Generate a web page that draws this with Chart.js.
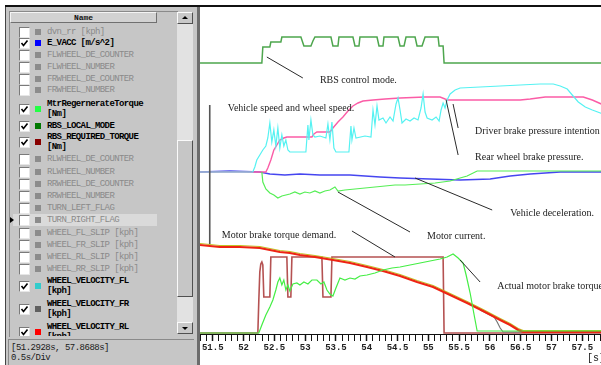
<!DOCTYPE html>
<html>
<head>
<meta charset="utf-8">
<script src="https://cdn.jsdelivr.net/npm/chart.js@4.4.1/dist/chart.umd.min.js"></script>
<style>
html, body { margin:0; padding:0; width:601px; height:365px; overflow:hidden; background:#fff; }
#topline { position:absolute; left:5px; top:5px; width:596px; height:2px; background:#111; z-index:5; }
#panel { position:absolute; left:5px; top:7px; width:193px; height:358px; background:#c6c6c6; border-left:1px solid #444; }
#sep { position:absolute; left:197px; top:7px; width:3px; height:358px; background:#6c6c6c; }
#list { position:absolute; left:0; top:0; width:177px; height:336px; overflow:hidden; }
#listbox { position:absolute; left:9px; top:11px; width:168px; height:325px; border-top:1px solid #8a8a8a; border-left:1px solid #8a8a8a; }
#hdr { position:absolute; left:10px; top:12px; width:145px; height:9px; background:#d2d2d2;
  border-top:1px solid #f4f4f4; border-left:1px solid #f4f4f4; border-right:1px solid #707070; border-bottom:1px solid #707070;
  font:bold 8px "Liberation Mono", monospace; text-align:center; line-height:9px; color:#111; }
.row { position:absolute; left:47px; font:bold 9px "Liberation Mono", monospace; letter-spacing:-0.6px; line-height:10px; color:#000; white-space:pre; }
.row.off { color:#8a8a8a; font-weight:normal; }
.cb { position:absolute; left:19px; width:9px; height:9px; background:#fff; border-top:1px solid #7a7a7a; border-left:1px solid #7a7a7a; border-right:1px solid #e6e6e6; border-bottom:1px solid #e6e6e6; overflow:hidden; }
.cb svg { display:block; }
.sq { position:absolute; left:35px; width:6px; height:6px; }
#sel { position:absolute; left:13px; top:214px; width:144px; height:12px; background:#dadada; }
#mark { position:absolute; left:10px; top:217px; width:0; height:0; border-top:3px solid transparent; border-bottom:3px solid transparent; border-left:4px solid #000; }
#sb { position:absolute; left:177px; top:12px; width:16px; height:322px; background:#e2e2e2; }
.btn { position:absolute; left:0; width:14px; height:10px; background:#c8c8c8; border-top:1px solid #fafafa; border-left:1px solid #fafafa; border-right:1px solid #505050; border-bottom:1px solid #505050; }
#thumb { position:absolute; left:0; top:128px; width:14px; height:155px; background:#c6c6c6; border-top:1px solid #fafafa; border-left:1px solid #fafafa; border-right:1px solid #505050; border-bottom:1px solid #505050; }
.tri { position:absolute; left:4px; width:0; height:0; border-left:3px solid transparent; border-right:3px solid transparent; }
#status { position:absolute; left:8px; top:339px; width:186px; height:26px; border-top:1px solid #8a8a8a; border-left:1px solid #8a8a8a;
  font:9px "Liberation Mono", monospace; letter-spacing:-0.5px; line-height:10px; color:#1a1a1a; padding:3px 0 0 2px; box-sizing:border-box; white-space:pre; }
#chart { position:absolute; left:200px; top:0; }
</style>
</head>
<body>
<div id="panel"></div>
<div id="listbox"></div>
<div id="list">
  <div id="hdr">Name</div>
  <div id="sel"></div>
  <div id="mark"></div>
</div>
<div id="sb">
  <div class="btn" style="top:0"><div class="tri" style="top:3px;border-bottom:3px solid #000"></div></div>
  <div id="thumb"></div>
  <div class="btn" style="top:310px"><div class="tri" style="top:4px;border-top:3px solid #000"></div></div>
</div>
<div id="status">[51.2928s, 57.8688s]
0.5s/Div</div>
<div id="sep"></div>
<div id="topline"></div>
<canvas id="chart" width="405" height="365"></canvas>
<script>
// Signal list on the left
const rowNames = ['dvn_rr [kph]', 'E_VACC [m/s^2]', 'FLWHEEL_DE_COUNTER', 'FLWHEEL_NUMBER', 'FRWHEEL_DE_COUNTER',
  'FRWHEEL_NUMBER', 'MtrRegernerateTorque\n[Nm]', 'RBS_LOCAL_MODE', 'RBS_REQUIRED_TORQUE\n[Nm]', 'RLWHEEL_DE_COUNTER',
  'RLWHEEL_NUMBER', 'RRWHEEL_DE_COUNTER', 'RRWHEEL_NUMBER', 'TURN_LEFT_FLAG', 'TURN_RIGHT_FLAG',
  'WHEEL_FL_SLIP [kph]', 'WHEEL_FR_SLIP [kph]', 'WHEEL_RL_SLIP [kph]', 'WHEEL_RR_SLIP [kph]',
  'WHEEL_VELOCITY_FL\n[kph]', 'WHEEL_VELOCITY_FR\n[kph]', 'WHEEL_VELOCITY_RL\n[kph]'];
const rowY = [32, 43, 55, 67, 79, 90, 104, 126, 137, 159, 172, 184, 196, 208, 220, 233, 245, 257, 269, 281, 304, 327];
const rowColor = [null, '#0000ff', null, null, null, null, '#22ff44', '#007800', '#880000', null,
  null, null, null, null, null, null, null, null, null, '#33cccc', '#606060', '#ff0000'];

// View window (s)
const viewStart = 51.2928;
const viewEnd = 57.8688;
const majorTicks = [51.5, 52, 52.5, 53, 53.5, 54, 54.5, 55, 55.5, 56, 56.5, 57, 57.5];

// Traces: time (s) and plotted level (no y scale on the display)
const modeT = [51.293, 52.297, 52.313, 52.427, 52.443, 52.606, 52.622, 52.931, 52.980, 53.094, 53.126, 53.159,
  53.419, 53.451, 53.533, 53.549, 53.776, 53.809, 53.874, 53.890, 54.167, 54.199, 54.264, 54.280, 54.508,
  54.541, 54.606, 54.638, 54.785, 54.817, 54.898, 54.947, 55.159, 55.175, 55.240, 55.256, 57.87];
const modeV = [271, 271, 287, 287, 292, 292, 297, 297, 288, 288, 293, 297,
  297, 288, 288, 297, 297, 288, 288, 297, 297, 288, 288, 297, 297,
  288, 288, 297, 297, 288, 288, 297, 297, 288, 288, 271, 271];

const wheelFLT = [51.293, 52.150, 52.183, 52.215, 52.264, 52.313, 52.362, 52.394, 52.427, 52.459, 52.492, 52.524,
  52.557, 52.589, 52.622, 52.654, 52.687, 52.720, 52.752, 53.012, 53.045, 53.061, 53.094, 53.126, 53.159,
  53.240, 53.337, 53.370, 53.402, 53.435, 53.467, 53.500, 53.711, 53.744, 53.760, 53.793, 53.825, 53.972,
  54.069, 54.102, 54.134, 54.167, 54.199, 54.264, 54.313, 54.378, 54.427, 54.476, 54.508, 54.541, 54.573,
  54.638, 54.703, 54.768, 54.833, 54.882, 54.915, 54.947, 54.980, 55.061, 55.126, 55.175, 55.207, 55.240,
  55.272, 55.305, 55.354, 55.435, 55.516, 55.841, 56.167, 56.492, 56.817, 57.029, 57.142, 57.256, 57.337,
  57.435, 57.549, 57.663, 57.793, 57.87];
const wheelFLV = [162, 162, 167, 174, 179, 184, 188, 196, 211, 192, 204, 188,
  206, 186, 199, 188, 194, 184, 182, 182, 209, 194, 214, 199, 197,
  198, 196, 210, 194, 212, 186, 182, 182, 208, 194, 206, 196, 198,
  197, 224, 209, 228, 214, 216, 211, 217, 213, 230, 236, 224, 211,
  215, 213, 216, 214, 226, 240, 222, 216, 214, 217, 213, 224, 231,
  226, 234, 240, 244, 246, 247, 248, 249, 250, 250, 248, 245, 239,
  232, 227, 224, 221, 219];

const wheelRRT = [51.293, 52.362, 52.394, 52.443, 52.492, 52.541, 52.589, 52.654, 52.703, 53.110, 53.142, 53.191,
  53.402, 53.451, 53.533, 53.614, 53.695, 53.776, 53.858, 53.939, 54.102, 54.297, 54.541, 54.947, 55.191,
  55.272, 55.321, 56.492, 56.654, 56.898, 57.516, 57.663, 57.809, 57.87];
const wheelRRV = [162, 162, 166, 174, 184, 189, 194, 196, 197, 197, 200, 202,
  202, 206, 212, 217, 223, 228, 231, 233, 234, 235, 236, 237, 237,
  235, 234, 234, 235, 237, 237, 234, 230, 228];

const vaccT = [51.293, 51.776, 52.264, 52.427, 52.671, 52.915, 53.240, 53.728, 54.215, 54.541, 55.028, 55.516,
  56.004, 56.329, 56.654, 57.142, 57.87];
const vaccV = [162, 163, 162, 160, 159, 160, 159, 159, 157, 156, 155, 154, 155, 158, 160, 162, 162];

const currentT = [52.297, 52.313, 52.362, 52.427, 52.492, 52.557, 52.622, 52.687, 52.752, 52.833, 52.915, 52.996,
  53.077, 53.159, 53.240, 53.321, 53.402, 53.484, 53.533, 53.646, 53.809, 53.972, 54.134, 54.297, 54.459,
  54.622, 54.866, 55.110, 55.354, 55.516, 55.630, 55.793, 57.87];
const currentV = [162, 152, 145, 141, 139, 136, 138, 139, 140, 142, 140, 142,
  141, 143, 141, 143, 144, 147, 143, 144, 145, 146, 147, 148, 149,
  149, 150, 151, 153, 156, 158, 163, 163];

const regenT = [51.293, 52.248, 52.297, 52.362, 52.427, 52.476, 52.524, 52.557, 52.589, 52.622, 52.654, 52.687,
  52.720, 52.752, 52.801, 52.866, 52.915, 52.980, 53.045, 53.110, 53.191, 53.256, 53.305, 53.354, 53.402,
  53.451, 53.500, 53.565, 53.646, 53.728, 53.809, 53.890, 54.004, 54.134, 54.264, 54.411, 54.541, 54.703,
  54.866, 55.028, 55.191, 55.305, 55.402, 55.484, 55.565, 55.614, 55.679, 55.744, 55.793, 57.87];
const regenV = [1, 1, 9, 19, 27, 34, 44, 52, 56, 49, 54, 44,
  49, 43, 50, 51, 49, 52, 50, 54, 54, 50, 52, 44, 40,
  38, 46, 56, 54, 56, 55, 58, 59, 61, 64, 66, 67, 69,
  71, 73, 75, 77, 80, 76, 71, 59, 41, 19, 3, 3];

const reqTorqueT = [51.293, 52.232, 52.248, 52.264, 52.280, 52.297, 52.313, 52.329, 52.427, 52.443, 52.703, 52.720,
  52.768, 52.785, 53.272, 53.289, 53.419, 53.435, 55.240, 55.256, 57.87];
const reqTorqueV = [1, 1, 34, 62, 70, 72, 69, 37, 37, 77, 77, 37,
  37, 77, 77, 37, 37, 77, 77, 1, 1];

const demandT = [51.293, 51.451, 51.614, 51.939, 52.264, 52.427, 52.589, 52.752, 52.915, 53.159, 53.451, 53.728,
  54.004, 54.264, 54.541, 54.817, 55.077, 55.354, 55.630, 55.890, 56.167, 56.329, 56.459, 56.541, 56.654, 57.87];
const demandV = [89, 88, 87, 87, 86, 84, 82, 81, 79, 77, 74, 71,
  67, 63, 58, 52, 47, 39, 31, 23, 14, 9, 4, 2, 2, 2];
const demandHiV = [90.5, 89.5, 88.5, 88.5, 87.5, 85.5, 83.5, 82.5, 80.5, 78.5, 75.5, 72.5,
  68.5, 64.5, 59.5, 53.5, 48.5, 40.5, 32.5, 24.5, 15.5, 10.5, 5.5, 3.5, 3.5, 3.5];

const wheelFRT = [55.841, 56.069, 56.118, 56.167, 56.215, 56.492, 57.87];
const wheelFRV = [24, 17, 12, 6, 2, 2, 2];

// Annotations (text left edge / leader line ends, in plot units)
const noteText = ['RBS control mode.', 'Vehicle speed and wheel speed.', 'Driver brake pressure intention',
  'Rear wheel brake pressure.', 'Vehicle deceleration.', 'Motor current.', 'Motor brake torque demand.',
  'Actual motor brake torque'];
const noteT = [53.240, 51.744, 55.760, 55.760, 56.329, 54.980, 51.646, 56.118];
const noteV = [254, 226, 203, 177, 121, 98, 99, 48];
const leadT0 = [52.378, 51.451, 55.402, 55.289, 54.785, 53.533, 53.760, 55.516];
const leadV0 = [277, 229, 230, 234, 156, 142, 103, 74];
const leadT1 = [52.963, 51.451, 55.484, 55.484, 56.037, 54.703, 54.459, 55.841];
const leadV1 = [256, 90, 206, 179, 124, 102, 77, 52];

// build the list panel
const list = document.getElementById('list');
rowNames.forEach((name, i) => {
  const on = rowColor[i] !== null;
  const twoLine = name.includes('\n');
  const mid = twoLine ? rowY[i] + 5 : rowY[i];
  const row = document.createElement('div');
  row.className = on ? 'row' : 'row off';
  row.style.top = (rowY[i] - 5) + 'px';
  row.textContent = name;
  list.appendChild(row);
  const cb = document.createElement('div');
  cb.className = 'cb';
  cb.style.top = (mid - 5) + 'px';
  if (on) {
    cb.innerHTML = '<svg width="9" height="9" viewBox="0 0 9 9"><polyline points="1.5,4 3.5,6.5 7.5,1.5" fill="none" stroke="#000" stroke-width="1.6"/></svg>';
  }
  list.appendChild(cb);
  const sq = document.createElement('div');
  sq.className = 'sq';
  sq.style.top = (mid - 3) + 'px';
  sq.style.background = on ? rowColor[i] : '#8c8c8c';
  list.appendChild(sq);
});

// minor ticks every 0.1 s
const tickValues = [];
for (let k = 513; k <= 578; k++) tickValues.push(k / 10);
const isMajor = (v) => Math.abs(v * 2 - Math.round(v * 2)) < 1e-6;

function trace(label, ts, vs, color, width, order) {
  return {
    label: label,
    data: ts.map((t, i) => ({ x: t, y: vs[i] })),
    borderColor: color,
    borderWidth: width,
    order: order,
    clip: false,
    pointRadius: 0,
    fill: false,
    tension: 0,
  };
}

const datasets = [
  trace('E_VACC', vaccT, vaccV, '#4646f0', 1.4, 20),
  trace('WHEEL_VELOCITY_RR', wheelRRT, wheelRRV, '#fb5ca6', 1.4, 19),
  trace('WHEEL_VELOCITY_FL', wheelFLT, wheelFLV, '#55f2f2', 1.2, 18),
  trace('Motor current', currentT, currentV, '#55ee55', 1.2, 17),
  trace('RBS_LOCAL_MODE', modeT, modeV, '#4ea64e', 1.5, 16),
  trace('RBS_REQUIRED_TORQUE', reqTorqueT, reqTorqueV, '#b55252', 1.6, 15),
  trace('WHEEL_VELOCITY_FR', wheelFRT, wheelFRV, '#777777', 1.2, 14),
  trace('Demand (filtered)', demandT, demandHiV, '#c2c224', 1.2, 13),
  trace('Motor brake torque demand', demandT, demandV, '#ee2414', 2.2, 12),
  trace('MtrRegernerateTorque', regenT, regenV, '#44ee44', 1.2, 11),
];
noteText.forEach((s, i) => {
  datasets.push(trace('lead ' + i, [leadT0[i], leadT1[i]], [leadV0[i], leadV1[i]],
    i === 1 ? '#555555' : '#2a2a2a', i === 1 ? 1.6 : 1, 1));
});

const notesPlugin = {
  id: 'notes',
  afterDatasetsDraw(chart) {
    const { ctx, scales } = chart;
    ctx.save();
    ctx.font = '10px "Liberation Serif", serif';
    ctx.fillStyle = '#1c1c1c';
    ctx.textBaseline = 'middle';
    ctx.textAlign = 'left';
    noteText.forEach((s, i) => {
      ctx.fillText(s, scales.x.getPixelForValue(noteT[i]), scales.y.getPixelForValue(noteV[i]));
    });
    ctx.restore();
  },
};

new Chart(document.getElementById('chart'), {
  type: 'line',
  data: { datasets: datasets },
  options: {
    responsive: false,
    animation: false,
    devicePixelRatio: 1,
    layout: { padding: { top: 8, left: 0, right: 0, bottom: 0 } },
    plugins: { legend: { display: false }, tooltip: { enabled: false } },
    scales: {
      x: {
        type: 'linear',
        min: viewStart,
        max: viewEnd,
        afterBuildTicks: (axis) => { axis.ticks = tickValues.map((v) => ({ value: v })); },
        afterFit: (axis) => { axis.height = 31; axis.paddingLeft = 0; axis.paddingRight = 0; },
        grid: {
          drawOnChartArea: false,
          drawTicks: true,
          tickLength: 7,
          tickColor: '#111',
          tickWidth: (ctx) => (ctx.tick && isMajor(ctx.tick.value) ? 1.5 : 1),
        },
        border: { display: true, color: '#111', width: 1 },
        ticks: {
          autoSkip: false,
          maxRotation: 0,
          padding: 1,
          color: '#222',
          font: { family: 'Liberation Mono', size: 9, weight: 'bold' },
          callback: (v) => {
            const m = majorTicks.find((t) => Math.abs(t - v) < 1e-6);
            return m === undefined ? '' : (Number.isInteger(m) ? String(m) : m.toFixed(1));
          },
        },
        title: {
          display: true,
          text: '[s]',
          align: 'end',
          color: '#222',
          font: { family: 'Liberation Mono', size: 10 },
          padding: { top: 0, bottom: 1 },
        },
      },
      y: { display: false, min: 0, max: 326 },
    },
  },
  plugins: [notesPlugin],
});
</script>
</body>
</html>
